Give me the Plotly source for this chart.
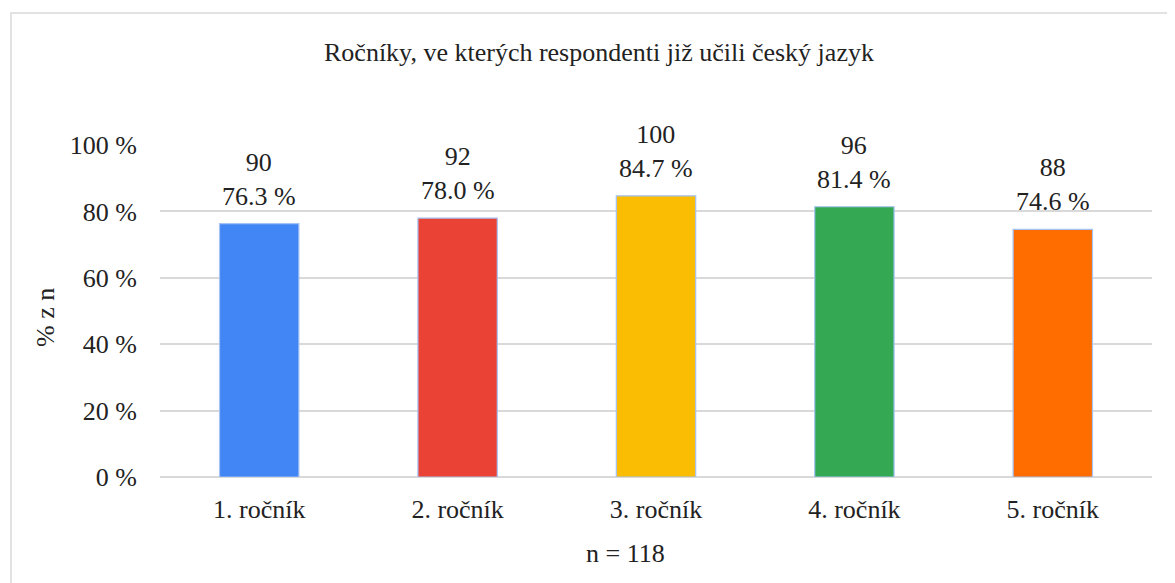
import plotly.graph_objects as go

categories = ["1. ročník", "2. ročník", "3. ročník", "4. ročník", "5. ročník"]
counts = [90, 92, 100, 96, 88]
percents = [76.3, 78.0, 84.7, 81.4, 74.6]
colors = ["#4285F4", "#EA4335", "#FBBC04", "#34A853", "#FF6D01"]
y_ticks = [0, 20, 40, 60, 80, 100]
y_tick_labels = [f"{v} %" for v in y_ticks]

FONT = "Liberation Serif"
FS = 26
OFF = 8  # page body margin

L, R, T, B = 160 - OFF, 1152 - OFF, 145 - OFF, 477 - OFF
W, H = R - L, B - T


def px(xpage):
    return (xpage - OFF - L) / W


def py(ypage):
    return (B - (ypage - OFF)) / H


fig = go.Figure()
fig.add_trace(go.Bar(
    x=categories, y=percents,
    marker=dict(color=colors, line=dict(color="#a4c2f4", width=1.2)),
    hoverinfo="skip",
))

annotations = []
for c, n, p in zip(categories, counts, percents):
    annotations.append(dict(
        x=c, y=p, xref="x", yref="y", text=f"{n}<br>{p:.1f} %",
        showarrow=False, yanchor="bottom", yshift=11,
        font=dict(family=FONT, size=FS, color="#222"),
    ))

annotations += [
    dict(text="Ročníky, ve kterých respondenti již učili český jazyk",
         x=px(599), y=py(52), xref="paper", yref="paper",
         showarrow=False, xanchor="center", yanchor="middle",
         font=dict(family=FONT, size=FS, color="#222")),
    dict(text="n = 118", x=px(625), y=py(553),
         xref="paper", yref="paper", showarrow=False,
         xanchor="center", yanchor="middle",
         font=dict(family=FONT, size=FS, color="#222")),
    dict(text="% z n", x=px(45), y=py(318),
         xref="paper", yref="paper", showarrow=False, textangle=-90,
         xanchor="center", yanchor="middle",
         font=dict(family=FONT, size=FS, color="#222")),
]

fig.update_layout(
    width=1175, height=583,
    margin=dict(l=L, r=1175 - R, t=T, b=583 - B),
    paper_bgcolor="white", plot_bgcolor="white",
    bargap=0.6, showlegend=False,
    annotations=annotations,
    shapes=[dict(type="rect", xref="paper", yref="paper",
                 x0=px(11), x1=px(1188),
                 y0=py(610), y1=py(13),
                 line=dict(color="#d9d9d9", width=1.5), layer="below")],
    font=dict(family=FONT, size=FS, color="#222"),
)
fig.update_yaxes(range=[0, 100], tickvals=y_ticks, ticktext=y_tick_labels,
                 showgrid=True, gridcolor="#d9d9d9", gridwidth=1.5,
                 zeroline=True, zerolinecolor="#d9d9d9", zerolinewidth=1.5,
                 showline=False, ticks="", ticklabelstandoff=22,
                 tickfont=dict(family=FONT, size=FS, color="#222"))
fig.update_xaxes(showgrid=False, showline=False, ticks="",
                 ticklabelstandoff=14,
                 tickfont=dict(family=FONT, size=FS, color="#222"))

fig.write_html("out.html")
